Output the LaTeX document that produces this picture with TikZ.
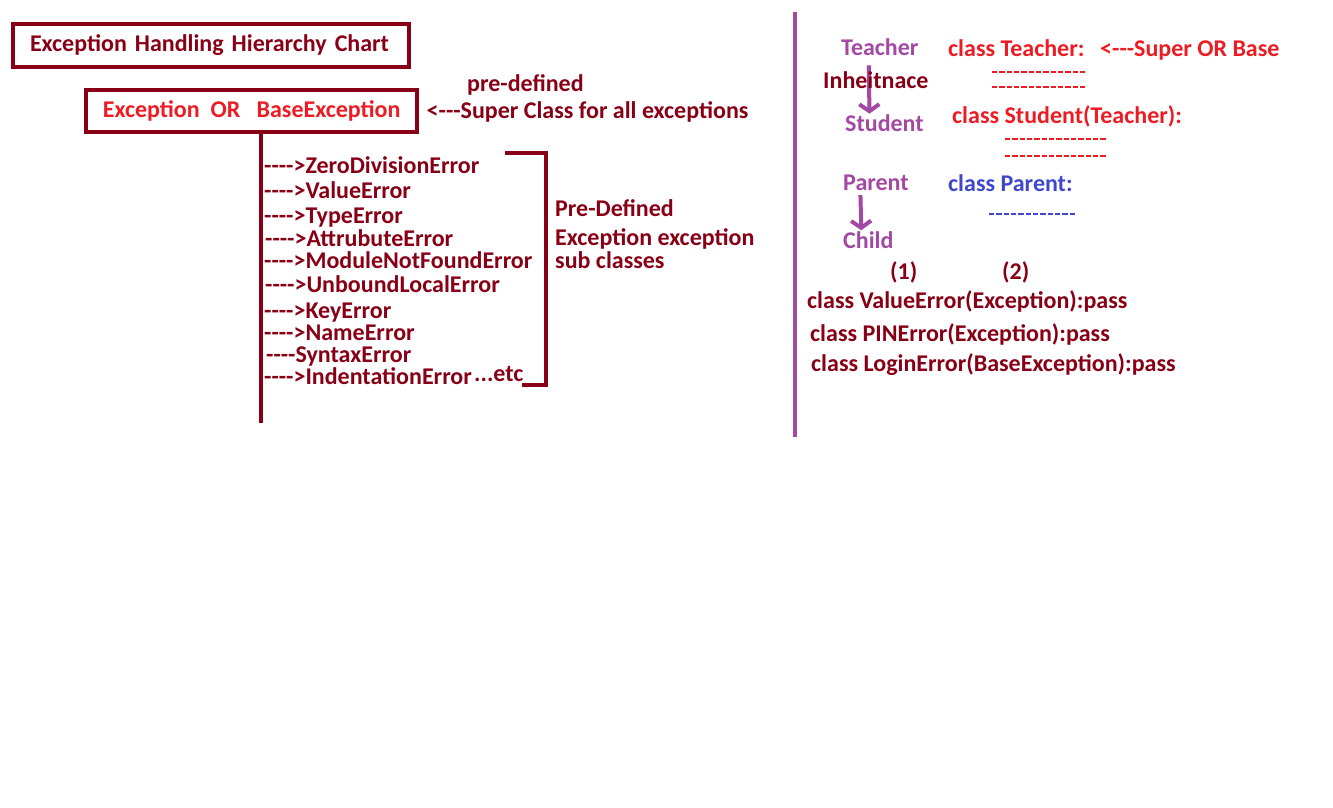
\documentclass[tikz,border=0pt]{standalone}
\usepackage{fontspec}
\setmainfont{Carlito}[Ligatures=TeXOff]
\usetikzlibrary{arrows.meta}
\definecolor{darkred}{HTML}{880015}
\definecolor{paintred}{HTML}{ED1C24}
\definecolor{paintpurple}{HTML}{A349A4}
\definecolor{paintblue}{HTML}{3F48CC}

\begin{document}
\begin{tikzpicture}[x=1pt, y=-1pt,
  txt/.style={anchor=base west, inner sep=0pt, font=\fontsize{24}{28}\selectfont\bfseries},
  codedash/.style={line width=2.3pt, dash pattern=on 5.3pt off 2.04pt},
  thickbox/.style={draw=darkred, line width=4pt, inner sep=0pt, font=\fontsize{24}{28}\selectfont\bfseries},
  inh/.style={paintpurple, line width=4pt, -{Straight Barb[length=7pt,width=20pt]}}]
\useasboundingbox (0,0) rectangle (1333,807);
%% 제목 상자
\node[thickbox, text=darkred, minimum width=396pt, minimum height=43pt, text width=362pt, align=left, inner xsep=17pt] (title) at (211,45.5) {Exception Handling Hierarchy Chart};
\node[thickbox, text=paintred, minimum width=331pt, minimum height=42pt] (base) at (251.7,110.7) {Exception\ \ OR\ \ \ BaseException};
\node[txt, darkred] (predef) at (467,91.7) {pre-defined};
\node[txt, darkred] (superall) at (426.5,118.3) {<---Super Class for all exceptions};
%% 하위 클래스 목록
\coordinate (stemend) at (260.7,423);
\draw[darkred, line width=4pt] ([xshift=9pt]base.south) -- (stemend);
\node[txt, darkred] (zerodiv) at (264,173) {---->ZeroDivisionError};
\node[txt, darkred] (valueerr) at (264,198) {---->ValueError};
\node[txt, darkred] (typeerr) at (264,223) {---->TypeError};
\node[txt, darkred] (attrerr) at (265,246) {---->AttrubuteError};
\node[txt, darkred] (modnf) at (264,268) {---->ModuleNotFoundError};
\node[txt, darkred] (unbound) at (265,292) {---->UnboundLocalError};
\node[txt, darkred] (keyerr) at (264,318) {---->KeyError};
\node[txt, darkred] (nameerr) at (264,340) {---->NameError};
\node[txt, darkred] (syntaxerr) at (266,362) {----SyntaxError};
\node[txt, darkred] (indenterr) at (264,384) {---->IndentationError};
\node[txt, darkred] (etc) at (474,381) {...etc};
%% 괄호
\draw[darkred, line width=4pt] (505,152.7) -- (546,152.7) -- (546,385) -- (522,385);
\node[txt, darkred] (predef1) at (555,216) {Pre-Defined};
\node[txt, darkred] (predef2) at (555,245) {Exception exception};
\node[txt, darkred] (predef3) at (555,268) {sub classes};
%% 오른쪽 구분선
\draw[paintpurple, line width=4pt] (794.7,12) -- (794.7,437);
\node[txt, paintpurple] (teacher) at (841,55) {Teacher};
\node[txt, paintred] (clsteacher) at (948,56) {class Teacher:};
\node[txt, paintred] (superbase) at (1100,56) {<---Super OR Base};
\draw[codedash, paintred] (992,71.7) -- ++(93.4,0);
\draw[codedash, paintred] (992,87.3) -- ++(93.4,0);
\node[txt, paintpurple] (student) at (845,131.7) {Student};
\node[txt, paintred] (clsstudent) at (952,123.3) {class Student(Teacher):};
\draw[codedash, paintred] (1005,139.3) -- ++(100.7,0);
\draw[codedash, paintred] (1005,155.7) -- ++(100.7,0);
\draw[inh] ([xshift=-11pt,yshift=-10pt]teacher.south) -- ([xshift=-15pt,yshift=1pt]student.north);
\node[txt, darkred] (inherit) at (823,88) {Inheitnace};
\node[txt, paintpurple] (parent) at (843,190.7) {Parent};
\node[txt, paintblue] (clsparent) at (948,191.7) {class Parent:};
\draw[codedash, paintblue] (989,214) -- ++(86,0);
\node[txt, paintpurple] (child) at (843,248.3) {Child};
\draw[inh] ([xshift=-15.5pt,yshift=-4pt]parent.south) -- ([xshift=-7pt,yshift=1pt]child.north);
%% 사용자 정의 예외
\node[txt, darkred] (one) at (890,279) {(1)};
\node[txt, darkred] (two) at (1002,279) {(2)};
\node[txt, darkred] (cls1) at (807,308) {class ValueError(Exception):pass};
\node[txt, darkred] (cls2) at (810,341.7) {class PINError(Exception):pass};
\node[txt, darkred] (cls3) at (811,371.7) {class LoginError(BaseException):pass};
\end{tikzpicture}
\end{document}
